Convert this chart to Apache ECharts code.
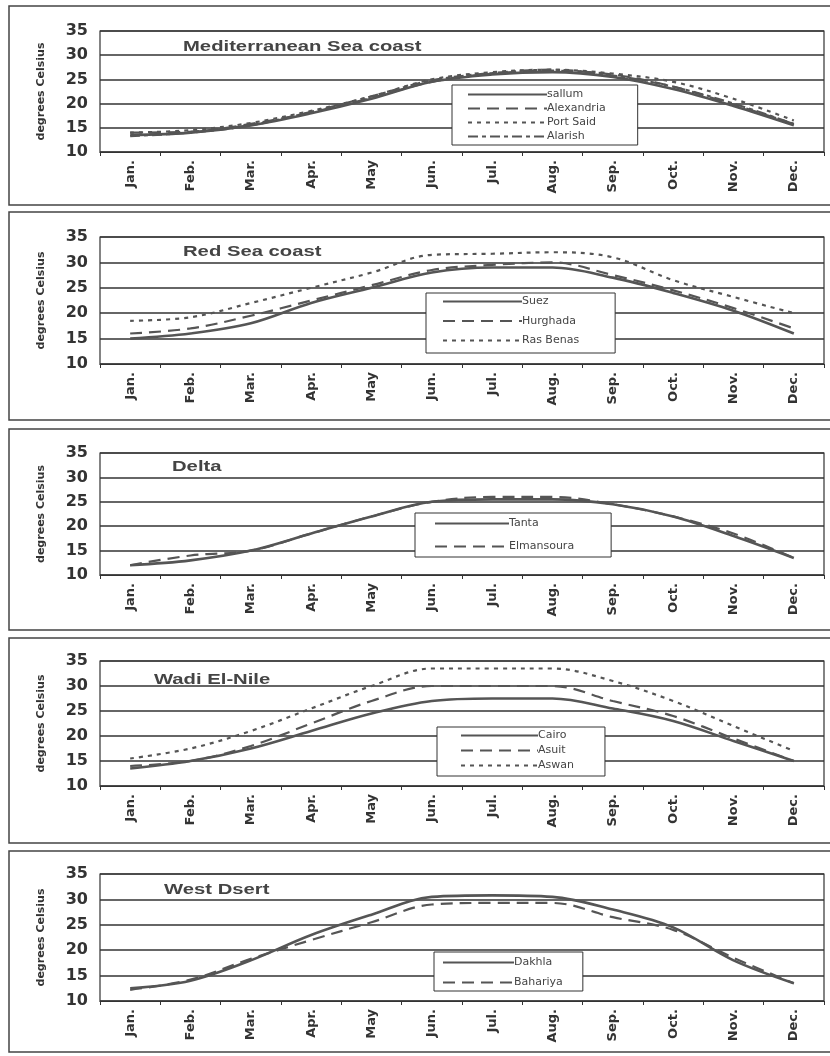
<!DOCTYPE html>
<html lang="en">
<head>
    <meta charset="UTF-8">
    <title>Monthly temperature</title>
    <style>
        body { margin: 0; background: #fff; }
    </style>
</head>
<body>
    <div id="main" style="width:830px;height:1056px;"></div>
</body>
<script src="https://cdn.jsdelivr.net/npm/echarts@6/dist/echarts.min.js"></script>
<script>
    var months = ['Jan.', 'Feb.', 'Mar.', 'Apr.', 'May', 'Jun.', 'Jul.', 'Aug.', 'Sep.', 'Oct.', 'Nov.', 'Dec.'];
    var yTicks = [10, 15, 20, 25, 30, 35];

    // Mediterranean Sea coast
    var sallum = [13.5, 14, 15.5, 18, 21, 24.5, 26, 26.5, 25.5, 23, 19.5, 15.5];
    var alexandria = [14, 14.2, 15.8, 18.2, 21.2, 24.5, 26.2, 26.8, 26, 23.5, 19.8, 15.8];
    var portSaid = [14, 14.5, 16, 18.5, 21.5, 25, 26.5, 27, 26.2, 24.5, 21, 16.5];
    var alarish = [13.3, 14, 15.5, 18.3, 21.5, 24.8, 26.3, 27, 25.8, 23.5, 20, 15.8];

    // Red Sea coast
    var suez = [15, 16, 18, 22, 25, 28, 29, 29, 27, 24, 20.5, 16];
    var hurghada = [16, 17, 19.5, 22.5, 25.5, 28.5, 29.5, 30, 27.5, 24.5, 21, 17];
    var rasBenas = [18.5, 19.2, 22, 25, 28, 31.5, 31.7, 32, 31, 26.5, 23.2, 20];

    // Delta
    var tanta = [12, 13, 15, 18.5, 22, 25, 25.5, 25.5, 24.5, 22, 18, 13.5];
    var elmansoura = [12, 14, 15, 18.5, 22, 25, 26, 26, 24.5, 22, 18.5, 13.5];

    // Wadi El-Nile
    var cairo = [13.5, 15, 17.5, 21, 24.5, 27, 27.5, 27.5, 25.5, 23, 19, 15];
    var asuit = [14, 15, 18, 22.5, 27, 30, 30, 30, 27, 24, 19.5, 15];
    var aswan = [15.5, 17.5, 21, 25.5, 30, 33.5, 33.5, 33.5, 31, 27, 22, 17];

    // West Desert
    var dakhla = [12.5, 14, 18, 23, 27, 30.5, 30.8, 30.5, 28, 24.5, 18, 13.5];
    var bahariya = [12.2, 14.2, 18.3, 22, 25.5, 29, 29.3, 29.3, 26.5, 24, 18.5, 13.5];

    var SOLID = 'solid', LONG = [12, 7], DOT = [4, 5], DASHDOT = [10, 4, 4, 4];

    // legend: [left, top], padding [t, r, b, l], icon width, gap
    var panels = [
        { title: 'Mediterranean Sea coast', top: 31, height: 121, titleX: 183, titleY: 47,
          legend: [452, 85], pad: [4, 32, 3, 15], iw: 79, gap: 3,
          lines: [['sallum', sallum, SOLID], ['Alexandria', alexandria, LONG], ['Port Said', portSaid, DOT], ['Alarish', alarish, DASHDOT]] },
        { title: 'Red Sea coast', top: 237, height: 127, titleX: 183, titleY: 252,
          legend: [426, 293], pad: [3, 36, 7, 16], iw: 79, gap: 8.5,
          lines: [['Suez', suez, SOLID], ['Hurghada', hurghada, LONG], ['Ras Benas', rasBenas, DOT]] },
        { title: 'Delta', top: 453, height: 122, titleX: 172, titleY: 467,
          legend: [415, 513], pad: [5, 37, 5, 19], iw: 74, gap: 12,
          lines: [['Tanta', tanta, SOLID], ['Elmansoura', elmansoura, LONG]] },
        { title: 'Wadi El-Nile', top: 661, height: 125, titleX: 154, titleY: 680,
          legend: [437, 727], pad: [3, 31, 5, 23], iw: 77, gap: 4,
          lines: [['Cairo', cairo, SOLID], ['Asuit', asuit, LONG], ['Aswan', aswan, DOT]] },
        { title: 'West Dsert', top: 874, height: 127, titleX: 164, titleY: 890,
          legend: [434, 952], pad: [5, 20, 3, 8], iw: 71, gap: 9,
          lines: [['Dakhla', dakhla, SOLID], ['Bahariya', bahariya, LONG]] }
    ];

    var grid = [], xAxis = [], yAxis = [], series = [], legend = [], graphic = [];
    var frames = [[6, 205], [212, 420], [429, 630], [638, 843], [851, 1052]];

    frames.forEach(function (fr) {
        graphic.push({
            type: 'rect',
            shape: { x: 9, y: fr[0], width: 830, height: fr[1] - fr[0] },
            style: { fill: 'none', stroke: '#444', lineWidth: 1.5 },
            silent: true
        });
    });

    panels.forEach(function (p, i) {
        grid.push({ left: 100, right: 6, top: p.top, height: p.height, show: true, borderColor: '#333', borderWidth: 1.2 });
        xAxis.push({
            type: 'category', gridIndex: i, data: months, boundaryGap: true,
            axisLine: { lineStyle: { color: '#333', width: 1.2 } },
            axisTick: { show: true, length: 4, lineStyle: { color: '#333' } },
            axisLabel: { rotate: 90, fontFamily: 'DejaVu Sans', fontWeight: 'bold', fontSize: 13, color: '#333', margin: 8 }
        });
        yAxis.push({
            type: 'value', gridIndex: i, min: yTicks[0], max: yTicks[yTicks.length - 1], interval: 5,
            name: 'degrees Celsius', nameLocation: 'middle', nameGap: 53, nameRotate: 90,
            nameTextStyle: { fontFamily: 'DejaVu Sans', fontWeight: 'bold', fontSize: 11, color: '#333' },
            axisLine: { show: false },
            axisTick: { show: false },
            axisLabel: { fontFamily: 'DejaVu Sans', fontWeight: 'bold', fontSize: 16, color: '#333', margin: 12 },
            splitLine: { lineStyle: { color: '#333', width: 1.5 } }
        });
        // panel title, stretched like the scanned original
        graphic.push({
            type: 'text', x: p.titleX, y: p.titleY, scaleX: 1.35, z: 50,
            style: { text: p.title, font: 'bold 15px "Liberation Sans"', fill: '#444', verticalAlign: 'middle' }
        });
        var names = [];
        p.lines.forEach(function (l) {
            names.push(l[0]);
            series.push({
                name: l[0], type: 'line', xAxisIndex: i, yAxisIndex: i,
                data: l[1], smooth: 0.35, symbol: 'none',
                itemStyle: { color: '#555' },
                lineStyle: { color: '#555', width: l[2] === SOLID ? 2.6 : 2.2, type: l[2] }
            });
        });
        legend.push({
            data: names, orient: 'vertical', left: p.legend[0], top: p.legend[1],
            backgroundColor: '#fff', borderColor: '#333', borderWidth: 1, borderRadius: 0,
            padding: p.pad,
            itemWidth: p.iw, itemHeight: 12, itemGap: p.gap,
            itemStyle: { opacity: 0 },
            lineStyle: { width: 2 },
            selectedMode: false,
            textStyle: { fontFamily: 'DejaVu Sans', fontSize: 11, color: '#444', padding: [0, 0, 0, -5] }
        });
    });

    var main = echarts.init(document.getElementById('main'));
    main.setOption({
        backgroundColor: '#fff',
        animation: false,
        legend: legend,
        grid: grid,
        xAxis: xAxis,
        yAxis: yAxis,
        series: series,
        graphic: graphic
    });
</script>
</html>
